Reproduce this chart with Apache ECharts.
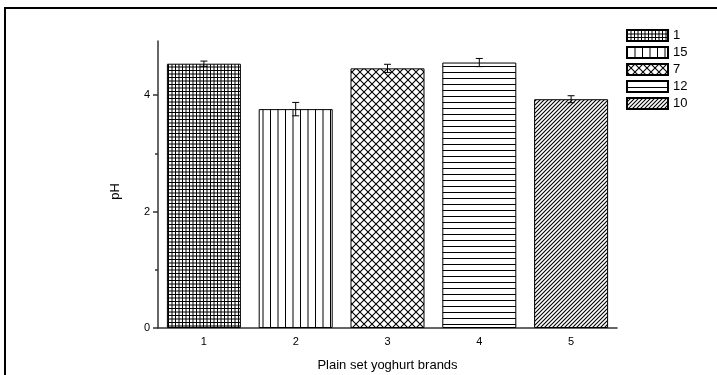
<!DOCTYPE html>
<html>
<head>
<meta charset="utf-8">
<script src="https://cdn.jsdelivr.net/npm/echarts@6/dist/echarts.min.js"></script>
<style>
  html, body { margin: 0; padding: 0; background: #fff; }
  #chart { width: 717px; height: 375px; }
</style>
</head>
<body>
<div id="chart"></div>
<script>
// Brand positions on the x axis and the brand codes used in the legend
const categories = ['1', '2', '3', '4', '5'];
const brandNames = ['1', '15', '7', '12', '10'];
// Mean pH of each plain set yoghurt and its standard deviation
const phValues = [4.54, 3.76, 4.46, 4.56, 3.93];
const phErrors = [0.045, 0.115, 0.07, 0.07, 0.06];
const yTickValues = [0, 2, 4];
const yMinorTickValues = [1, 3];

// Hatch textures, one per brand
function makeTile(w, h, draw) {
  const c = document.createElement('canvas');
  c.width = w; c.height = h;
  const ctx = c.getContext('2d');
  ctx.fillStyle = '#fff';
  ctx.fillRect(0, 0, w, h);
  ctx.strokeStyle = '#000';
  draw(ctx, w, h);
  return { image: c, repeat: 'repeat' };
}
const patterns = [
  // fine square grid
  makeTile(7, 7, (ctx) => {
    ctx.lineWidth = 1;
    ctx.beginPath();
    ctx.moveTo(0.5, 0); ctx.lineTo(0.5, 7);
    ctx.moveTo(4, 0); ctx.lineTo(4, 7);
    ctx.moveTo(0, 0.5); ctx.lineTo(7, 0.5);
    ctx.moveTo(0, 4); ctx.lineTo(7, 4);
    ctx.stroke();
  }),
  // vertical lines
  makeTile(15, 4, (ctx) => {
    ctx.lineWidth = 1;
    ctx.beginPath();
    ctx.moveTo(0.5, 0); ctx.lineTo(0.5, 4);
    ctx.moveTo(8, 0); ctx.lineTo(8, 4);
    ctx.stroke();
  }),
  // diagonal cross hatch
  makeTile(8, 8, (ctx) => {
    ctx.lineWidth = 1.1;
    ctx.beginPath();
    ctx.moveTo(-1, -1); ctx.lineTo(9, 9);
    ctx.moveTo(-1, 9); ctx.lineTo(9, -1);
    ctx.stroke();
  }),
  // horizontal lines
  makeTile(4, 6, (ctx) => {
    ctx.lineWidth = 1;
    ctx.beginPath();
    ctx.moveTo(0, 0.5); ctx.lineTo(4, 0.5);
    ctx.stroke();
  }),
  // dense forward diagonals
  makeTile(4, 4, (ctx) => {
    ctx.lineWidth = 1.1;
    ctx.beginPath();
    ctx.moveTo(-1, 5); ctx.lineTo(5, -1);
    ctx.moveTo(-1, 1); ctx.lineTo(1, -1);
    ctx.moveTo(3, 5); ctx.lineTo(5, 3);
    ctx.stroke();
  })
];

const font = 'Liberation Sans, Arial, Helvetica, sans-serif';
const axisColor = '#333';

const barSeries = brandNames.map((name, i) => ({
  name: name,
  type: 'bar',
  xAxisIndex: 0,
  yAxisIndex: 0,
  barWidth: 74,
  barGap: '-100%',
  data: categories.map((c, j) => (j === i ? phValues[i] : '-')),
  itemStyle: { color: patterns[i], borderColor: '#000', borderWidth: 1 },
  emphasis: { disabled: true }
}));

const errorSeries = {
  type: 'custom',
  xAxisIndex: 0,
  yAxisIndex: 0,
  z: 10,
  data: categories.map((c, i) => [i, phValues[i] - phErrors[i], phValues[i] + phErrors[i]]),
  renderItem: function (params, api) {
    const lo = api.coord([api.value(0), api.value(1)]);
    const hi = api.coord([api.value(0), api.value(2)]);
    const hw = 3.5;
    const style = { stroke: '#000', lineWidth: 1 };
    return {
      type: 'group',
      children: [
        { type: 'line', shape: { x1: hi[0], y1: hi[1], x2: lo[0], y2: lo[1] }, style },
        { type: 'line', shape: { x1: hi[0] - hw, y1: hi[1], x2: hi[0] + hw, y2: hi[1] }, style },
        { type: 'line', shape: { x1: lo[0] - hw, y1: lo[1], x2: lo[0] + hw, y2: lo[1] }, style }
      ]
    };
  }
};

const chart = echarts.init(document.getElementById('chart'));
chart.setOption({
  animation: false,
  backgroundColor: '#fff',
  textStyle: { fontFamily: font },
  grid: { left: 158, right: 100, top: 41, bottom: 47, outerBoundsMode: 'none', containLabel: false },
  legend: {
    orient: 'vertical',
    left: 626,
    top: 29,
    itemWidth: 41,
    itemHeight: 11,
    itemGap: 4,
    icon: 'rect',
    selectedMode: false,
    padding: 0,
    data: brandNames,
    textStyle: { fontFamily: font, fontSize: 13, color: '#000', padding: [0, 0, 0, 0] }
  },
  xAxis: [
    {
      type: 'category',
      data: categories,
      boundaryGap: true,
      name: 'Plain set yoghurt brands',
      nameLocation: 'middle',
      nameGap: 31,
      nameTextStyle: { fontFamily: font, fontSize: 13, color: '#000' },
      axisLine: { lineStyle: { color: axisColor, width: 1.5 } },
      axisTick: { alignWithLabel: true, length: 5, lineStyle: { color: axisColor, width: 1.5 } },
      axisLabel: { fontFamily: font, fontSize: 11, color: '#000', margin: 8 },
      splitLine: { show: false }
    },
    {
      type: 'category',
      data: categories,
      boundaryGap: true,
      position: 'bottom',
      axisLine: { show: false },
      axisTick: { length: 3, lineStyle: { color: axisColor, width: 1.5 } },
      axisLabel: { show: false },
      splitLine: { show: false }
    }
  ],
  yAxis: [
    {
      type: 'value',
      min: 0,
      max: 4.93,
      name: 'pH',
      nameLocation: 'middle',
      nameGap: 36,
      nameTextStyle: { fontFamily: font, fontSize: 13, color: '#000', padding: [0, 14, 0, 0] },
      axisLine: { show: true, lineStyle: { color: axisColor, width: 1.5 } },
      axisTick: { show: true, length: 5, customValues: yTickValues, lineStyle: { color: axisColor, width: 1.5 } },
      axisLabel: { customValues: yTickValues, fontFamily: font, fontSize: 11, color: '#000', margin: 8 },
      splitLine: { show: false }
    },
    {
      type: 'value',
      min: 0,
      max: 4.93,
      position: 'left',
      axisLine: { show: false },
      axisTick: { show: true, length: 3, customValues: yMinorTickValues, lineStyle: { color: axisColor, width: 1.5 } },
      axisLabel: { show: false },
      splitLine: { show: false }
    }
  ],
  graphic: [
    {
      // page frame; its right and bottom edges run past the canvas
      type: 'rect',
      shape: { x: 5, y: 8, width: 720, height: 380 },
      style: { fill: 'none', stroke: '#000', lineWidth: 2 },
      silent: true,
      z: 100
    }
  ],
  series: barSeries.concat([errorSeries])
});
</script>
</body>
</html>
